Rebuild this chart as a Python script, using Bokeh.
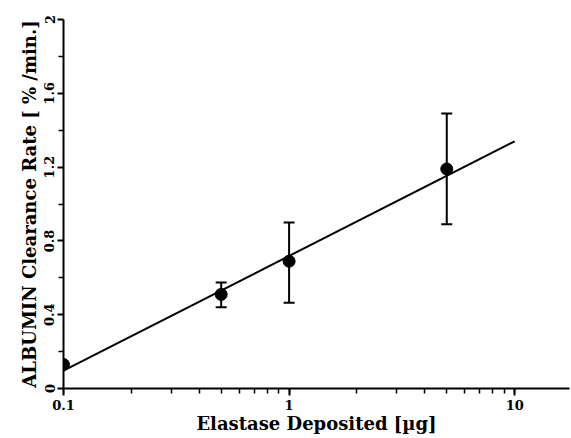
from bokeh.plotting import figure
from bokeh.models import ColumnDataSource, Whisker, TeeHead, FixedTicker, LogTicker, Range1d, CustomJSTickFormatter
from bokeh.embed import file_html
from bokeh.resources import INLINE

# Data
dose = [0.1, 0.5, 1.0, 5.0]
rate = [0.13, 0.51, 0.69, 1.19]
err_low = [None, 0.44, 0.465, 0.89]
err_high = [None, 0.575, 0.90, 1.49]
fit_x = [0.1, 10.0]
fit_y = [0.097, 1.34]
x_ticks = [0.1, 1, 10]
y_ticks = [0, 0.4, 0.8, 1.2, 1.6, 2]
y_tick_labels = ["0", "0.4", "0.8", "1.2", "1.6", "2"]
y_minor = [0.2, 0.6, 1.0, 1.4, 1.8]

FONT = "DejaVu Serif"

p = figure(width=570, height=436, x_axis_type="log",
           x_range=Range1d(0.1, 17.5), y_range=Range1d(0, 2),
           output_backend="svg", toolbar_location=None,
           min_border_left=63, min_border_right=1, min_border_top=19, min_border_bottom=46)
p.outline_line_color = None
p.xgrid.visible = False
p.ygrid.visible = False

p.line(fit_x, fit_y, line_color="black", line_width=2)
p.scatter(dose, rate, size=12, color="black")

eb_x = [d for d, l in zip(dose, err_low) if l is not None]
eb_lo = [l for l in err_low if l is not None]
eb_hi = [h for h in err_high if h is not None]
src = ColumnDataSource(dict(x=eb_x, lo=eb_lo, hi=eb_hi))
w = Whisker(base="x", lower="lo", upper="hi", source=src, dimension="height",
            line_color="black", line_width=2,
            upper_head=TeeHead(size=11, line_color="black", line_width=2),
            lower_head=TeeHead(size=11, line_color="black", line_width=2))
p.add_layout(w)

xa = p.xaxis[0]
xa.ticker = LogTicker(num_minor_ticks=10)
xa.formatter = CustomJSTickFormatter(code="return String(tick);")
xa.axis_label = "Elastase Deposited [\u00b5g]"
xa.axis_label_text_font = FONT
xa.axis_label_text_font_style = "bold"
xa.axis_label_text_font_size = "18px"
xa.axis_label_text_color = "black"
xa.axis_label_standoff = 0
xa.major_label_text_font = FONT
xa.major_label_text_font_style = "bold"
xa.major_label_text_font_size = "13px"
xa.major_label_text_color = "black"
xa.major_label_standoff = 4
xa.major_tick_in = 0
xa.major_tick_out = 7
xa.minor_tick_in = 0
xa.minor_tick_out = 5
xa.axis_line_width = 2
xa.major_tick_line_width = 2
xa.minor_tick_line_width = 1.5

ya = p.yaxis[0]
ya.ticker = FixedTicker(ticks=y_ticks, minor_ticks=y_minor)
ya.major_label_overrides = {t: l for t, l in zip(y_ticks, y_tick_labels)}
ya.major_label_orientation = "vertical"
ya.axis_label = "ALBUMIN Clearance Rate [ % /min.]"
ya.axis_label_text_font = FONT
ya.axis_label_text_font_style = "bold"
ya.axis_label_text_font_size = "18px"
ya.axis_label_text_color = "black"
ya.axis_label_standoff = 2
ya.major_label_text_font = FONT
ya.major_label_text_font_style = "bold"
ya.major_label_text_font_size = "13px"
ya.major_label_text_color = "black"
ya.major_label_standoff = 3
ya.major_tick_in = 0
ya.major_tick_out = 6
ya.minor_tick_in = 0
ya.minor_tick_out = 5
ya.axis_line_width = 2
ya.major_tick_line_width = 2
ya.minor_tick_line_width = 1.5

open("out.html", "w").write(file_html(p, INLINE))
